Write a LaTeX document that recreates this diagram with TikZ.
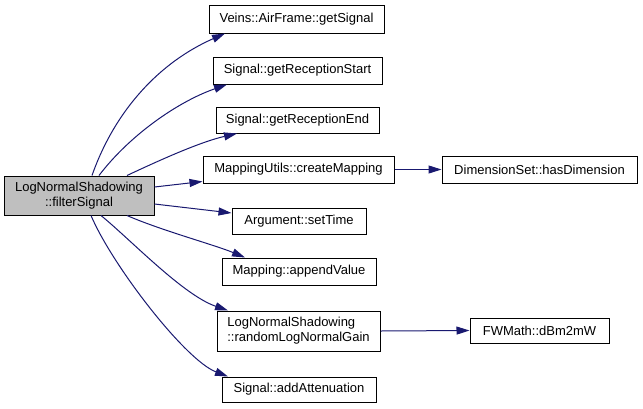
\documentclass[tikz,border=0pt]{standalone}
\usepackage{fontspec}
\setmainfont{Liberation Sans}
\usetikzlibrary{arrows.meta}
\definecolor{edgeblue}{HTML}{191970}
\definecolor{rootgray}{HTML}{BFBFBF}
\tikzset{
  fn/.style={draw=black, line width=1pt, fill=white, inner sep=0pt, font=\fontsize{13}{15}\selectfont},
  rootfn/.style={fn, fill=rootgray, align=center},
  call/.style={draw=edgeblue, line width=1pt, -{Triangle[length=13pt,width=8pt]}, color=edgeblue}
}
\begin{document}
\begin{tikzpicture}[x=1pt,y=-1pt]
\useasboundingbox (0,0) rectangle (643,408);
\node[rootfn, minimum width=150pt, minimum height=39pt] (root) at (79,195.5) {LogNormalShadowing\\::filterSignal};
\node[fn, minimum width=175pt, minimum height=28pt] (gs) at (296.5,19) {Veins::AirFrame::getSignal};
\node[fn, minimum width=169pt, minimum height=27pt] (grs) at (297.5,70.5) {Signal::getReceptionStart};
\node[fn, minimum width=163pt, minimum height=26pt] (gre) at (297.5,120) {Signal::getReceptionEnd};
\node[fn, minimum width=191pt, minimum height=27pt] (cm) at (298.5,169.5) {MappingUtils::createMapping};
\node[fn, minimum width=195pt, minimum height=27pt] (hd) at (539.5,169.5) {DimensionSet::hasDimension};
\node[fn, minimum width=134pt, minimum height=26pt] (st) at (299,221) {Argument::setTime};
\node[fn, minimum width=154pt, minimum height=27pt] (av) at (299,271.5) {Mapping::appendValue};
\node[fn, minimum width=163pt, minimum height=40pt, align=left] (rnd) at (298.5,331) {LogNormalShadowing\\::randomLogNormalGain};
\node[fn, minimum width=139pt, minimum height=25pt] (dbm) at (539.5,330.5) {FWMath::dBm2mW};
\node[fn, minimum width=154pt, minimum height=25pt] (aa) at (299,389.5) {Signal::addAttenuation};

\draw[call] ([xshift=13pt]root.north) .. controls (115,110) and (160,62) .. ([xshift=-71.5pt]gs.south);
\draw[call] ([xshift=20pt]root.north) .. controls (129,136) and (177,102) .. ([xshift=-70.5pt]grs.south);
\draw[call] ([xshift=48pt]root.north) .. controls (160,160) and (200,142) .. ([xshift=-60.5pt]gre.south);
\draw[call] ([yshift=8.5pt]root.east) -- ([yshift=-12pt]cm.west);
\draw[call] ([yshift=-8.5pt]root.east) -- ([yshift=8pt]st.west);
\draw[call] ([xshift=48pt]root.south) .. controls (160,230) and (215,245) .. ([xshift=-54pt]av.north);
\draw[call] ([xshift=22pt]root.south) .. controls (131,240) and (183,295) .. ([xshift=-70.5pt]rnd.north);
\draw[call] ([xshift=12pt]root.south) .. controls (112,265) and (185,360) .. ([xshift=-71pt]aa.north);
\draw[call] (cm.east) -- (hd.west);
\draw[call] (rnd.east) -- (dbm.west);
\end{tikzpicture}
\end{document}
